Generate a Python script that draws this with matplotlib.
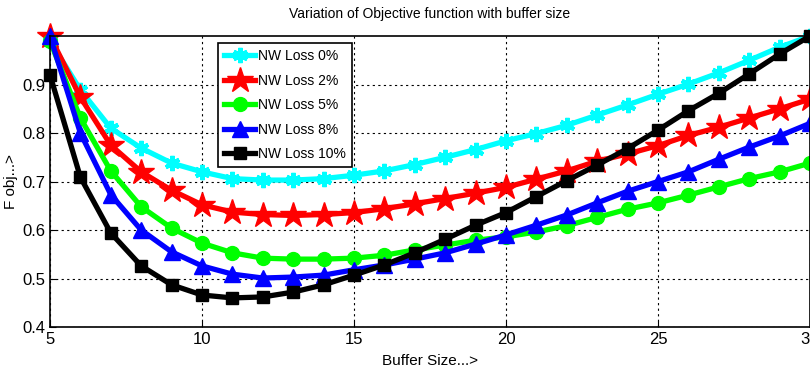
import matplotlib.pyplot as plt

plt.rcParams['font.family'] = ['Liberation Sans Narrow', 'Liberation Sans', 'DejaVu Sans']

buffer_size = list(range(5, 31))

loss_0 = [0.99, 0.889, 0.81, 0.769, 0.738, 0.72, 0.706, 0.703, 0.703, 0.706, 0.713,
          0.722, 0.735, 0.75, 0.766, 0.784, 0.799, 0.816, 0.837, 0.858, 0.880,
          0.901, 0.924, 0.950, 0.977, 1.0]
loss_2 = [1.0, 0.874, 0.775, 0.72, 0.682, 0.652, 0.637, 0.632, 0.630, 0.632, 0.636,
          0.644, 0.654, 0.665, 0.676, 0.688, 0.705, 0.722, 0.742, 0.757, 0.774,
          0.795, 0.812, 0.831, 0.850, 0.870]
loss_5 = [0.99, 0.831, 0.722, 0.648, 0.604, 0.573, 0.553, 0.542, 0.540, 0.540, 0.542,
          0.548, 0.559, 0.569, 0.579, 0.586, 0.596, 0.609, 0.626, 0.643, 0.656,
          0.672, 0.689, 0.706, 0.720, 0.738]
loss_8 = [1.0, 0.80, 0.673, 0.600, 0.555, 0.526, 0.509, 0.501, 0.503, 0.507, 0.518,
          0.528, 0.540, 0.553, 0.571, 0.590, 0.610, 0.631, 0.656, 0.680, 0.700,
          0.720, 0.746, 0.771, 0.794, 0.820]
loss_10 = [0.92, 0.709, 0.594, 0.526, 0.487, 0.466, 0.460, 0.462, 0.472, 0.487, 0.507,
           0.528, 0.553, 0.581, 0.610, 0.636, 0.669, 0.702, 0.734, 0.768, 0.806,
           0.846, 0.882, 0.922, 0.963, 1.0]

series = [loss_0, loss_2, loss_5, loss_8, loss_10]
labels = ['NW Loss 0%', 'NW Loss 2%', 'NW Loss 5%', 'NW Loss 8%', 'NW Loss 10%']
colors = ['#00ffff', '#ff0000', '#00ff00', '#0000ff', '#000000']
markers = [(6, 2, 0), '*', 'o', '^', 's']
msizes = [11, 19, 10, 12, 8]

fig = plt.figure(figsize=(8.1, 3.73), dpi=100)
ax = fig.add_axes([0.0617, 0.1233, 0.9383, 0.780])

for vals, lab, col, mk, ms in zip(series, labels, colors, markers, msizes):
    mew = 3 if mk == (6, 2, 0) else 1
    ax.plot(buffer_size, vals, color=col, marker=mk, markersize=ms, linewidth=3.8,
            markeredgecolor=col, markeredgewidth=mew, label=lab, clip_on=False)

ax.set_xlim(5, 30)
ax.set_ylim(0.4, 1.0)
ax.set_xticks([5, 10, 15, 20, 25, 30])
ax.set_yticks([0.4, 0.5, 0.6, 0.7, 0.8, 0.9])
ax.set_yticklabels(['0.4', '0.5', '0.6', '0.7', '0.8', '0.9'])
ax.grid(True, color='black', linestyle=(0, (2, 3)), linewidth=0.8)
ax.tick_params(direction='in', labelsize=12, length=4)
for sp in ax.spines.values():
    sp.set_linewidth(1.2)

ax.set_title('Variation of Objective function with buffer size', fontsize=10, pad=13)
ax.set_xlabel('Buffer Size...>', fontsize=11, labelpad=5)
ax.set_ylabel('F obj...>', fontsize=11)
ax.yaxis.set_label_coords(-0.042, 0.5)

leg = ax.legend(loc='upper left', bbox_to_anchor=(0.212, 1.0), fontsize=10,
                fancybox=False, framealpha=1, edgecolor='black',
                handlelength=2.2, handletextpad=0.2, borderpad=0.45, labelspacing=0.75)
leg.get_frame().set_linewidth(1.2)

fig.savefig('out.png', dpi=100)
